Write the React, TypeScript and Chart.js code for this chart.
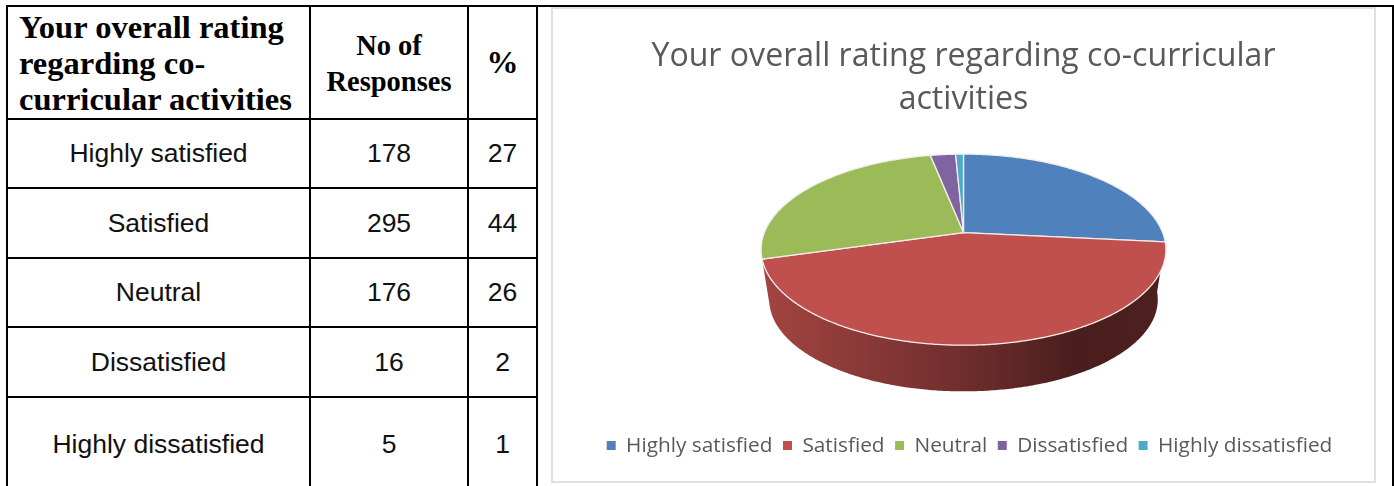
import React, { useEffect, useRef } from "react";
import { Chart, registerables } from "chart.js";

Chart.register(...registerables);

const chartTitle = ["Your overall rating regarding co-curricular", "activities"];
const categories = ["Highly satisfied", "Satisfied", "Neutral", "Dissatisfied", "Highly dissatisfied"];
const responses = [178, 295, 176, 16, 5];
const percents = [27, 44, 26, 2, 1];
const colors = ["#4F81BD", "#C0504D", "#9BBB59", "#8064A2", "#4BACC6"];
const headerCells = ["Your overall rating regarding co-curricular activities", "No of Responses", "%"];
const rowTops = [118, 187, 257, 326, 396, 490];

const shade = (hex: string, f: number) => {
  const n = parseInt(hex.slice(1), 16);
  return `rgb(${Math.round(((n >> 16) & 255) * f)},${Math.round(((n >> 8) & 255) * f)},${Math.round((n & 255) * f)})`;
};

const pie3d = {
  id: "pie3d",
  afterLayout(chart: any) {
    // the legend sits slightly right of and below the default place
    const l = chart.legend;
    l.left += 6;
    l.right += 6;
    l.top += 2;
    l.bottom += 2;
  },
  beforeDatasetDraw(chart: any) {
    const ctx = chart.ctx as CanvasRenderingContext2D;
    const arcs = chart.getDatasetMeta(0).data;
    const first = arcs[0];
    const R = first.outerRadius;
    const cx = first.x;
    const cy = first.y - R * 0.295;
    const kPersp = 0.179;
    const b = R * 1.356;
    const a = R * 0.63;
    const depth = R * 0.345;
    const low = 0.96;
    const top = (t: number) => {
      const w = 1 - kPersp * Math.sin(t);
      return [(b * Math.cos(t)) / w, (a * Math.sin(t)) / w];
    };
    const steps = (s: number, e: number) => {
      const out: number[] = [];
      const n = Math.max(2, Math.ceil((e - s) / 0.01));
      for (let i = 0; i <= n; i++) out.push(s + ((e - s) * i) / n);
      return out;
    };
    ctx.save();
    // side wall of the slices that face the viewer
    arcs.forEach((arc: any, i: number) => {
      if (Math.sin((arc.startAngle + arc.endAngle) / 2) <= 0) return;
      const ts = steps(arc.startAngle, arc.endAngle);
      const grad = ctx.createLinearGradient(cx - b, 0, cx + b, 0);
      grad.addColorStop(0, shade(colors[i], 0.85));
      grad.addColorStop(0.5, shade(colors[i], 0.58));
      grad.addColorStop(0.78, shade(colors[i], 0.38));
      grad.addColorStop(1, shade(colors[i], 0.4));
      ctx.beginPath();
      ts.forEach((t, j) => {
        const [x, y] = top(t);
        if (j === 0) ctx.moveTo(cx + x, cy + y);
        else ctx.lineTo(cx + x, cy + y);
      });
      ts.slice().reverse().forEach((t) => {
        const [x, y] = top(t);
        ctx.lineTo(cx + x * low, cy + depth + y * low);
      });
      ctx.closePath();
      ctx.fillStyle = grad;
      ctx.fill();
    });
    // top face
    arcs.forEach((arc: any, i: number) => {
      ctx.beginPath();
      ctx.moveTo(cx, cy);
      steps(arc.startAngle, arc.endAngle).forEach((t) => {
        const [x, y] = top(t);
        ctx.lineTo(cx + x, cy + y);
      });
      ctx.closePath();
      ctx.fillStyle = colors[i];
      ctx.fill();
      ctx.lineWidth = 1.3;
      ctx.lineJoin = "round";
      ctx.strokeStyle = "#f4ecec";
      ctx.stroke();
    });
    ctx.restore();
    return false;
  },
};

const borderLine = "2px solid #000";

export default function App() {
  const ref = useRef<HTMLCanvasElement>(null);
  useEffect(() => {
    document.body.style.margin = "0";
    const chart = new Chart(ref.current as HTMLCanvasElement, {
      type: "pie",
      data: {
        labels: categories,
        datasets: [{ data: responses, backgroundColor: colors, borderWidth: 0 }],
      },
      plugins: [pie3d],
      options: {
        animation: false,
        responsive: false,
        layout: { padding: { top: 16, bottom: 17 } },
        plugins: {
          tooltip: { enabled: false },
          title: {
            display: true,
            text: chartTitle,
            color: "#595959",
            font: { family: "'Open Sans'", size: 32.1, weight: "normal", lineHeight: 1.34 },
            padding: { top: 10, bottom: 8 },
          },
          legend: {
            position: "bottom",
            labels: {
              boxWidth: 9,
              boxHeight: 9,
              color: "#595959",
              padding: 10.5,
              font: { family: "'Open Sans'", size: 20.8 },
            },
          },
        },
      } as any,
    });
    return () => chart.destroy();
  }, []);

  const cols = [
    { left: 6, width: 303 },
    { left: 309, width: 158 },
    { left: 467, width: 69 },
  ];
  const rows = categories.map((c, i) => [c, String(responses[i]), String(percents[i])]);
  const headerSize = [32.5, 28.5, 32];
  const headerPad = [3, 4, 0];

  return (
    <div style={{ position: "fixed", left: 0, top: 0, width: 1394, height: 486, overflow: "hidden", background: "#fff" }}>
      <div style={{ position: "absolute", left: 6, top: 5, width: 1386, height: 600, borderTop: borderLine, borderRight: borderLine }} />
      {headerCells.map((h, i) => (
        <div
          key={h}
          style={{
            position: "absolute",
            left: cols[i].left,
            top: 5,
            width: cols[i].width,
            height: rowTops[0] - 5,
            boxSizing: "border-box",
            borderLeft: borderLine,
            display: "flex",
            alignItems: "center",
            justifyContent: i === 0 ? "flex-start" : "center",
            textAlign: i === 0 ? "left" : "center",
            paddingLeft: i === 0 ? 11 : 0,
            paddingTop: headerPad[i],
            fontFamily: "'Liberation Serif'",
            fontWeight: "bold",
            fontSize: headerSize[i],
            lineHeight: "36px",
            color: "#000",
          }}
        >
          {h}
        </div>
      ))}
      {rows.map((r, ri) =>
        r.map((cell, ci) => (
          <div
            key={ri + "-" + ci}
            style={{
              position: "absolute",
              left: cols[ci].left,
              top: rowTops[ri],
              width: cols[ci].width,
              height: rowTops[ri + 1] - rowTops[ri],
              boxSizing: "border-box",
              borderLeft: borderLine,
              borderTop: borderLine,
              display: "flex",
              alignItems: "center",
              justifyContent: "center",
              fontFamily: "'Liberation Sans'",
              fontSize: 26.5,
              color: "#111",
            }}
          >
            {cell}
          </div>
        ))
      )}
      <div style={{ position: "absolute", left: 536, top: 5, height: 490, borderLeft: borderLine }} />
      <div style={{ position: "absolute", left: 551, top: 7, width: 825, height: 476, boxSizing: "border-box", border: "2px solid #e0e0e0" }}>
        <canvas ref={ref} width={821} height={472} style={{ display: "block" }} />
      </div>
    </div>
  );
}
